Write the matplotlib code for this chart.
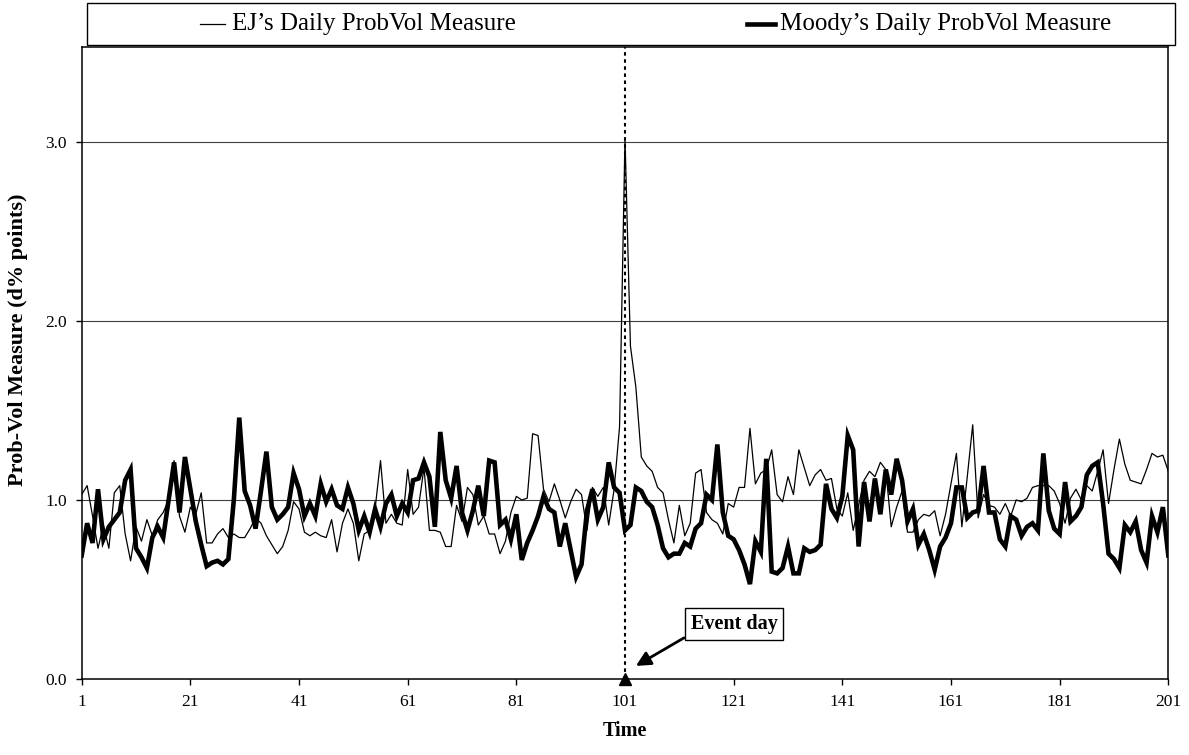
import matplotlib
matplotlib.use("Agg")
import matplotlib.pyplot as plt
from matplotlib.lines import Line2D
from matplotlib.patches import Rectangle
import numpy as np

time = list(range(1, 202))

ej = [1.03, 1.08, 0.91, 0.73, 0.86, 0.73, 1.04, 1.08, 0.81, 0.66,
      0.85, 0.77, 0.89, 0.80, 0.89, 0.93, 1.00, 1.22, 0.91, 0.82,
      0.96, 0.92, 1.04, 0.76, 0.76, 0.81, 0.84, 0.79, 0.81, 0.79,
      0.79, 0.84, 0.90, 0.87, 0.80, 0.75, 0.70, 0.74, 0.83, 0.99,
      0.95, 0.82, 0.80, 0.82, 0.80, 0.79, 0.89, 0.71, 0.87, 0.95,
      0.87, 0.66, 0.81, 0.83, 0.95, 1.22, 0.87, 0.92, 0.87, 0.86,
      1.17, 0.92, 0.96, 1.18, 0.83, 0.83, 0.82, 0.74, 0.74, 0.97,
      0.88, 1.07, 1.03, 0.86, 0.91, 0.81, 0.81, 0.70, 0.77, 0.93,
      1.02, 1.00, 1.01, 1.37, 1.36, 1.06, 0.99, 1.09, 1.00, 0.90,
      0.99, 1.06, 1.03, 0.83, 1.07, 1.02, 1.07, 0.86, 1.06, 1.41,
      3.02, 1.86, 1.63, 1.24, 1.19, 1.16, 1.07, 1.04, 0.89, 0.76,
      0.97, 0.80, 0.87, 1.15, 1.17, 0.93, 0.89, 0.87, 0.81, 0.98,
      0.96, 1.07, 1.07, 1.40, 1.09, 1.15, 1.17, 1.28, 1.03, 0.99,
      1.13, 1.03, 1.28, 1.18, 1.08, 1.14, 1.17, 1.11, 1.12, 0.95,
      0.91, 1.04, 0.83, 0.97, 1.11, 1.16, 1.13, 1.21, 1.17, 0.85,
      0.96, 1.05, 0.82, 0.82, 0.89, 0.92, 0.91, 0.94, 0.80, 0.92,
      1.09, 1.26, 0.85, 1.13, 1.42, 0.90, 1.03, 0.97, 0.96, 0.92,
      0.98, 0.91, 1.00, 0.99, 1.01, 1.07, 1.08, 1.08, 1.08, 1.05,
      0.98, 0.87, 1.01, 1.06, 1.00, 1.08, 1.05, 1.16, 1.28, 0.98,
      1.17, 1.34, 1.20, 1.11, 1.10, 1.09, 1.17, 1.26, 1.24, 1.25,
      1.16]

moody = [0.69, 0.87, 0.76, 1.06, 0.78, 0.85, 0.89, 0.93, 1.11, 1.17,
         0.73, 0.68, 0.62, 0.79, 0.85, 0.79, 1.00, 1.21, 0.93, 1.24,
         1.06, 0.88, 0.75, 0.63, 0.65, 0.66, 0.64, 0.67, 1.00, 1.46,
         1.05, 0.97, 0.84, 1.05, 1.27, 0.96, 0.89, 0.92, 0.96, 1.15,
         1.06, 0.91, 0.98, 0.91, 1.09, 0.99, 1.06, 0.97, 0.95, 1.07,
         0.98, 0.83, 0.91, 0.82, 0.95, 0.85, 0.98, 1.03, 0.91, 0.98,
         0.93, 1.11, 1.12, 1.21, 1.13, 0.85, 1.38, 1.11, 1.01, 1.19,
         0.93, 0.83, 0.94, 1.08, 0.91, 1.22, 1.21, 0.86, 0.89, 0.78,
         0.92, 0.665, 0.76, 0.83, 0.91, 1.02, 0.95, 0.93, 0.74, 0.87,
         0.72, 0.57, 0.64, 0.94, 1.06, 0.89, 0.96, 1.21, 1.07, 1.04,
         0.83, 0.86, 1.07, 1.05, 0.99, 0.96, 0.86, 0.73, 0.68, 0.70,
         0.70, 0.76, 0.74, 0.84, 0.87, 1.03, 1.00, 1.31, 0.93, 0.80,
         0.78, 0.72, 0.64, 0.53, 0.77, 0.71, 1.23, 0.60, 0.59, 0.62,
         0.74, 0.59, 0.59, 0.73, 0.71, 0.72, 0.75, 1.09, 0.95, 0.90,
         1.02, 1.36, 1.28, 0.74, 1.10, 0.88, 1.12, 0.92, 1.17, 1.03,
         1.23, 1.11, 0.88, 0.95, 0.75, 0.81, 0.72, 0.61, 0.74, 0.79,
         0.87, 1.07, 1.07, 0.90, 0.93, 0.94, 1.19, 0.93, 0.93, 0.78,
         0.74, 0.91, 0.89, 0.80, 0.85, 0.87, 0.83, 1.26, 0.94, 0.84,
         0.81, 1.10, 0.88, 0.91, 0.96, 1.14, 1.19, 1.21, 0.98, 0.70,
         0.67, 0.62, 0.86, 0.82, 0.88, 0.72, 0.65, 0.91, 0.82, 0.96,
         0.69]

xticks = [1, 21, 41, 61, 81, 101, 121, 141, 161, 181, 201]
yticks = [0.0, 1.0, 2.0, 3.0]
event_day = 101
labels = ["EJ\u2019s Daily ProbVol Measure", "Moody\u2019s Daily ProbVol Measure"]

plt.rcParams['font.family'] = ['Liberation Serif', 'DejaVu Serif']

W, H = 1189, 755
fig = plt.figure(figsize=(W / 100, H / 100), dpi=100)
ax = fig.add_axes([81.7 / W, 1 - 679 / H, (1168.3 - 81.7) / W, (679 - 47) / H])

for y in yticks[1:]:
    ax.axhline(y, color='#404040', lw=0.8, zorder=1)

ax.plot(time, ej, color='black', lw=0.9, zorder=3)
ax.plot(time, moody, color='black', lw=3.3, solid_joinstyle='miter', zorder=4)

ax.axvline(event_day, color='black', lw=1.5, linestyle=(0, (1.7, 1.7)), zorder=5)
ax.plot([event_day], [0], marker='^', color='black', markersize=8, clip_on=False, zorder=6)

ax.set_xlim(1, 201)
ax.set_ylim(0, 3.53)
ax.set_xticks(xticks)
ax.set_yticks(yticks)
ax.set_yticklabels([f"{v:.1f}" for v in yticks])
ax.tick_params(axis='both', direction='out', length=4.5, width=1, labelsize=12.5, pad=6)
for s in ax.spines.values():
    s.set_linewidth(1.1)

ax.set_xlabel("Time", fontsize=14.5, fontweight='bold', labelpad=8)
fig.text(18 / W, 1 - 340 / H, "Prob-Vol Measure (d% points)", fontsize=16, fontweight='bold',
         rotation=90, ha='center', va='center')

ax.annotate("Event day", xy=(103, 0.073), xytext=(121.06, 0.307), textcoords='data',
            ha='center', va='center', fontsize=14.5, fontweight='bold',
            bbox=dict(boxstyle='square,pad=0.3', fc='white', ec='black', lw=1),
            arrowprops=dict(arrowstyle='-|>,head_length=0.6,head_width=0.3', color='black',
                            lw=2, relpos=(0, 0), shrinkA=0, shrinkB=0),
            zorder=7)

# legend box above the plot
fig.patches.append(Rectangle((87 / W, 1 - 45 / H), (1175 - 87) / W, 42 / H,
                             transform=fig.transFigure, fill=False, ec='black', lw=1))
ly = 1 - 24 / H
fig.lines.append(Line2D([200 / W, 225 / W], [ly, ly], transform=fig.transFigure, color='black', lw=0.9))
fig.text(232 / W, ly, labels[0], fontsize=18, va='center', ha='left')
fig.lines.append(Line2D([747 / W, 775 / W], [ly, ly], transform=fig.transFigure, color='black', lw=3.3))
fig.text(780 / W, ly, labels[1], fontsize=18, va='center', ha='left')

fig.savefig("out.png", dpi=100)
